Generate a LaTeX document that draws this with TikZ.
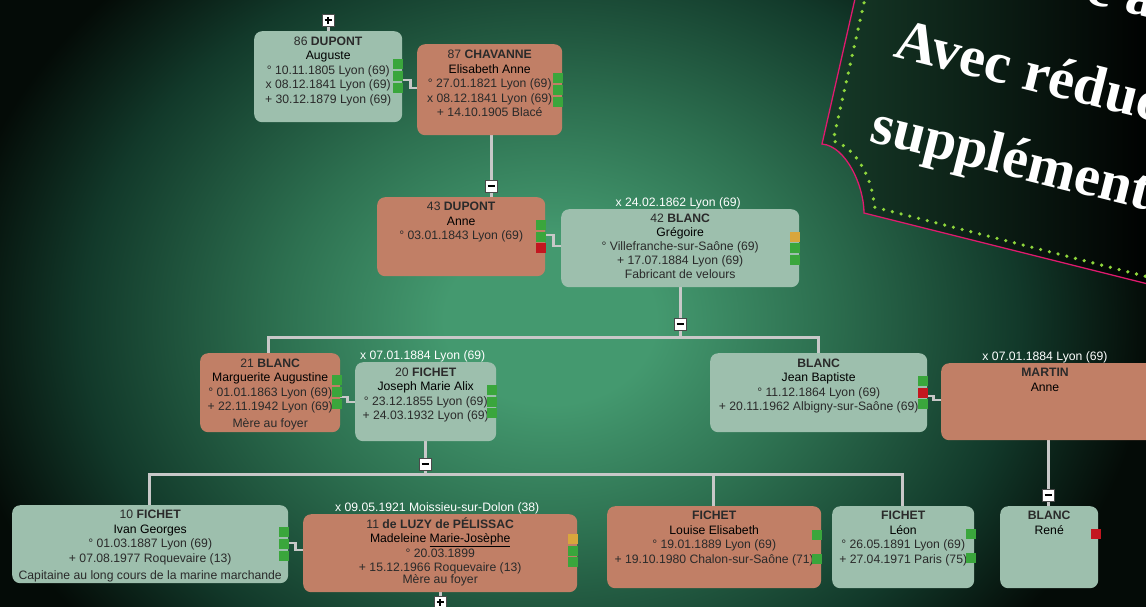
\documentclass[tikz,border=0pt]{standalone}
\usepackage{fontspec}
\setmainfont{Liberation Sans}
\newfontfamily\banfont{Liberation Serif}
\usetikzlibrary{calc}
\pgfdeclarelayer{back}
\pgfdeclarelayer{lines}
\pgfsetlayers{back,lines,main}
\definecolor{boxg}{HTML}{9DBFAD}
\definecolor{boxo}{HTML}{C17F66}
\definecolor{sqg}{HTML}{3AA63C}
\definecolor{sqr}{HTML}{C3161F}
\definecolor{sqo}{HTML}{D9A63C}
\definecolor{connc}{HTML}{C8C8C8}
\definecolor{txt}{HTML}{2A2A2A}
\definecolor{togc}{HTML}{4A4A4A}
\definecolor{bg1}{HTML}{44996F}
\definecolor{bg2}{HTML}{2D7050}
\definecolor{bg3}{HTML}{12392A}
\definecolor{bg4}{HTML}{040B07}
\definecolor{bann}{HTML}{163A28}
\definecolor{pinkb}{HTML}{E01A6E}
\definecolor{dotg}{HTML}{8ED63C}
\pgfdeclareradialshading{bgrad}{\pgfpoint{0bp}{0bp}}{color(0bp)=(bg1); color(4.4bp)=(bg1); color(11.3bp)=(bg2); color(19.5bp)=(bg3); color(25bp)=(bg4); color(50bp)=(bg4)}
\newcommand\gn[1]{\textcolor{black}{#1}}
\newcommand\stsq[3]{\fill[#3] (#1-10.5,#2) rectangle (#1,#2+10);}
\tikzset{
  pbox/.style={rounded corners=8pt, inner sep=0pt, draw=none, anchor=north west},
  gbox/.style={pbox, fill=boxg},
  obox/.style={pbox, fill=boxo},
  ptext/.style={font=\fontsize{12.2}{14.5}\selectfont, align=center, inner sep=0pt, text=txt, anchor=north},
  clab/.style={font=\fontsize{12.2}{14.5}\selectfont, text=white, inner sep=0pt, anchor=base},
  conn/.style={draw=connc, line width=3pt, line cap=rect},
  cconn/.style={draw=connc, line width=2.6pt},
  tog/.style={draw=togc, fill=white, line width=1pt, minimum width=12pt, minimum height=12pt, inner sep=0pt},
  tminus/.style={tog, path picture={\draw[line width=1.6pt, black] ([xshift=-3.5pt]path picture bounding box.center) -- ([xshift=3.5pt]path picture bounding box.center);}},
  tplus/.style={tog, path picture={\draw[line width=1.4pt, black] ([xshift=-3.5pt]path picture bounding box.center) -- ([xshift=3.5pt]path picture bounding box.center) ([yshift=-3.5pt]path picture bounding box.center) -- ([yshift=3.5pt]path picture bounding box.center);}},
  bantext/.style={text=white, font=\banfont\bfseries\fontsize{58}{60}\selectfont, rotate=-14, inner sep=0pt, anchor=base west},
}
\begin{document}
\begin{tikzpicture}[x=1pt, y=-1pt]
\useasboundingbox (0,0) rectangle (1146,606);
\begin{pgfonlayer}{back}
  \clip (0,0) rectangle (1146,606);
  \fill[bg4] (0,0) rectangle (1146,606);
  \shade[shading=bgrad] (-50,-160) rectangle (1150,800);
\end{pgfonlayer}

% boxes
\node[gbox, minimum width=148pt, minimum height=91pt] (A) at (254,31) {};
\node[obox, minimum width=145pt, minimum height=91pt] (B) at (417,44) {};
\node[obox, minimum width=168pt, minimum height=79pt] (C) at (377,197) {};
\node[gbox, minimum width=238pt, minimum height=78pt] (D) at (561,209) {};
\node[obox, minimum width=140pt, minimum height=79pt] (E) at (200,353) {};
\node[gbox, minimum width=141pt, minimum height=79pt] (F) at (355,362) {};
\node[gbox, minimum width=217pt, minimum height=79pt] (J) at (710,353) {};
\node[obox, minimum width=215pt, minimum height=77pt] (M) at (941,363) {};
\node[gbox, minimum width=276pt, minimum height=78pt] (I) at (12,505) {};
\node[obox, minimum width=274pt, minimum height=78pt] (L) at (303,514) {};
\node[obox, minimum width=214pt, minimum height=82pt] (Lo) at (607,506) {};
\node[gbox, minimum width=142pt, minimum height=82pt] (Le) at (832,506) {};
\node[gbox, minimum width=98pt, minimum height=82pt] (R) at (1000,506) {};

% texts
\node[ptext] (A-t) at ($(A.north)+(0,3.7)$) {\strut 86 \textbf{DUPONT}\\\gn{Auguste}\\° 10.11.1805 Lyon (69)\\x 08.12.1841 Lyon (69)\\+ 30.12.1879 Lyon (69)};
\node[ptext] (B-t) at ($(B.north)+(0,4.5)$) {\strut 87 \textbf{CHAVANNE}\\\gn{Elisabeth Anne}\\° 27.01.1821 Lyon (69)\\x 08.12.1841 Lyon (69)\\+ 14.10.1905 Blacé};
\node[ptext] (C-t) at ($(C.north)+(0,3.2)$) {\strut 43 \textbf{DUPONT}\\\gn{Anne}\\° 03.01.1843 Lyon (69)};
\node[ptext, font=\fontsize{12.2}{14}\selectfont] (D-t) at ($(D.north)+(0,3.2)$) {\strut 42 \textbf{BLANC}\\\gn{Grégoire}\\° Villefranche-sur-Saône (69)\\+ 17.07.1884 Lyon (69)\\Fabricant de velours};
\node[ptext] (E-t) at ($(E.north)+(0,3.7)$) {\strut 21 \textbf{BLANC}\\\gn{Marguerite Augustine}\\° 01.01.1863 Lyon (69)\\+ 22.11.1942 Lyon (69)\\[2.5pt]Mère au foyer};
\node[ptext] (F-t) at ($(F.north)+(0,3.7)$) {\strut 20 \textbf{FICHET}\\\gn{Joseph Marie Alix}\\° 23.12.1855 Lyon (69)\\+ 24.03.1932 Lyon (69)};
\node[ptext] (J-t) at ($(J.north)+(0,3.7)$) {\strut \textbf{BLANC}\\\gn{Jean Baptiste}\\° 11.12.1864 Lyon (69)\\+ 20.11.1962 Albigny-sur-Saône (69)};
\node[ptext] (M-t) at (1045,366.5) {\strut \textbf{MARTIN}\\\gn{Anne}};
\node[ptext] (I-t) at ($(I.north)+(0,3.2)$) {\strut 10 \textbf{FICHET}\\\gn{Ivan Georges}\\° 01.03.1887 Lyon (69)\\+ 07.08.1977 Roquevaire (13)\\[3pt]Capitaine au long cours de la marine marchande};
\node[ptext] (L-t) at ($(L.north)+(0,3.2)$) {\strut 11 \textbf{de LUZY de PÉLISSAC}\\\gn{Madeleine \underline{Marie-Josèphe}}\\° 20.03.1899\\+ 15.12.1966 Roquevaire (13)\\[-2.5pt]Mère au foyer};
\node[ptext] (Lo-t) at ($(Lo.north)+(0,3.2)$) {\strut \textbf{FICHET}\\\gn{Louise Elisabeth}\\° 19.01.1889 Lyon (69)\\+ 19.10.1980 Chalon-sur-Saône (71)};
\node[ptext] (Le-t) at ($(Le.north)+(0,3.2)$) {\strut \textbf{FICHET}\\\gn{Léon}\\° 26.05.1891 Lyon (69)\\+ 27.04.1971 Paris (75)};
\node[ptext] (R-t) at ($(R.north)+(0,3.2)$) {\strut \textbf{BLANC}\\\gn{René}};

% couple labels
\node[clab] (D-c) at ($(D.north)+(-2,-2.7)$) {x 24.02.1862 Lyon (69)};
\node[clab] (F-c) at ($(F.north)+(-3,-2.7)$) {x 07.01.1884 Lyon (69)};
\node[clab] (M-c) at (1045,360.3) {x 07.01.1884 Lyon (69)};
\node[clab] (L-c) at ($(L.north)+(-3,-2.7)$) {x 09.05.1921 Moissieu-sur-Dolon (38)};

% status squares
\stsq{403}{59}{sqg}\stsq{403}{71}{sqg}\stsq{403}{83}{sqg}
\stsq{563}{73}{sqg}\stsq{563}{85}{sqg}\stsq{563}{97}{sqg}
\stsq{546}{220}{sqg}\stsq{546}{231.5}{sqg}\stsq{546}{243}{sqr}
\stsq{800}{231.5}{sqo}\stsq{800}{243}{sqg}\stsq{800}{254.5}{sqg}
\stsq{342}{375}{sqg}\stsq{342}{387}{sqg}\stsq{342}{399}{sqg}
\stsq{497}{385}{sqg}\stsq{497}{396.5}{sqg}\stsq{497}{408}{sqg}
\stsq{928}{376}{sqg}\stsq{928}{387.5}{sqr}\stsq{928}{399}{sqg}
\stsq{289}{527}{sqg}\stsq{289}{539}{sqg}\stsq{289}{551}{sqg}
\stsq{578}{534}{sqo}\stsq{578}{545.5}{sqg}\stsq{578}{557}{sqg}
\stsq{822}{530}{sqg}\stsq{822}{554}{sqg}
\stsq{976}{529}{sqg}\stsq{976}{553}{sqg}
\stsq{1101}{529}{sqr}

% toggles
\node[tplus] (p0) at (328,20) {};
\node[tminus] (m1) at (491,186) {};
\node[tminus] (m2) at (680,324) {};
\node[tminus] (m3) at (425,464) {};
\node[tminus] (m4) at (1048,495) {};
\node[tplus] (p1) at (440,602) {};
\coordinate (bar1L) at (268,337);
\coordinate (bar1R) at (818,337);
\coordinate (bar2L) at (149,474);
\coordinate (bar2M) at (713,474);
\coordinate (bar2R) at (902,474);

\begin{pgfonlayer}{lines}
  \draw[conn] (p0) -- (A.north -| p0);
  \draw[conn] (B.south -| m1) -- (C.north -| m1);
  \draw[conn] (D.south) -- (D.south |- bar1L);
  \draw[conn] (bar1L) -- (bar1R);
  \draw[conn] (bar1L) -- (E.north -| bar1L);
  \draw[conn] (bar1R) -- (J.north -| bar1R);
  \draw[conn] (F.south -| m3) -- (m3 |- bar2L);
  \draw[conn] (bar2L) -- (bar2R);
  \draw[conn] (bar2L) -- (I.north -| bar2L);
  \draw[conn] (bar2M) -- (Lo.north -| bar2M);
  \draw[conn] (bar2R) -- (Le.north -| bar2R);
  \draw[conn] (M.south -| m4) -- (R.north -| m4);
  \draw[conn] (L.south -| p1) -- (p1);
  \draw[cconn] (A.east |- 0,80) -- ++(8,0) |- (B.west |- 0,88);
  \draw[cconn] (C.east |- 0,235) -- ++(8,0) |- (D.west |- 0,246);
  \draw[cconn] (E.east |- 0,397) -- ++(7,0) |- (F.west |- 0,402);
  \draw[cconn] (J.east |- 0,396) -- ++(6,0) |- (M.west |- 0,400);
  \draw[cconn] (I.east |- 0,543) -- ++(7,0) |- (L.west |- 0,550);
\end{pgfonlayer}

% banner
\begin{scope}
  \clip (0,0) rectangle (1146,606);
  \shade[left color=bann, right color=black] (857,-10) -- (822,144) .. controls (846,146) and (864,186) .. (864,213) -- (1160,287) -- (1160,-10) -- cycle;
  \draw[pinkb, line width=1.3pt] (857,-10) -- (822,144) .. controls (846,146) and (864,186) .. (864,213) -- (1160,287);
  \draw[dotg, line width=3.6pt, line cap=round, dash pattern=on 0pt off 9pt] (866,-6) -- (833,141) .. controls (855,146) and (874,180) .. (874,207) -- (1160,280);
  \node[bantext] (t1) at (1084,2) {e à f};
  \node[bantext] (t2) at (892,56) {Avec réduc};
  \node[bantext] (t3) at (868,141) {supplément};
\end{scope}
\end{tikzpicture}
\end{document}
